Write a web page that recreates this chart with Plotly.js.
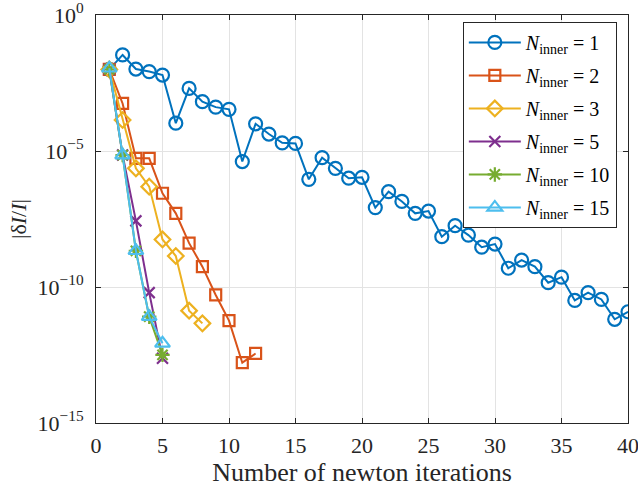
<!DOCTYPE html>
<html>
<head>
<meta charset="utf-8">
<script src="https://cdn.plot.ly/plotly-3.0.1.min.js"></script>
<style>html,body{margin:0;padding:0;background:#fff;}#plot{width:638px;height:493px;}</style>
</head>
<body>
<div id="plot"></div>
<script>
// Newton iterations
var xN1  = [1,2,3,4,5,6,7,8,9,10,11,12,13,14,15,16,17,18,19,20,21,22,23,24,25,26,27,28,29,30,31,32,33,34,35,36,37,38,39,40];
var yN1  = [1.0e-2,3.4e-2,1.03e-2,8.3e-3,6.2e-3,1.05e-4,2.0e-3,6.5e-4,4.1e-4,3.4e-4,4.1e-6,1.0e-4,4.2e-5,2.0e-5,1.9e-5,9.1e-7,5.7e-6,2.3e-6,1.0e-6,1.08e-6,8.3e-8,3.2e-7,1.4e-7,5.1e-8,6.2e-8,7.1e-9,1.8e-8,8.1e-9,2.9e-9,3.8e-9,4.9e-10,9.8e-10,5.6e-10,1.44e-10,2.3e-10,3.2e-11,6.2e-11,3.5e-11,6.5e-12,1.23e-11];
var xN2  = [1,2,3,4,5,6,7,8,9,10,11,12];
var yN2  = [1.0e-2,5.6e-4,5.4e-6,5.4e-6,2.8e-7,5.1e-8,4.1e-9,5.6e-10,5.1e-11,5.8e-12,1.65e-13,3.6e-13];
var xN3  = [1,2,3,4,5,6,7,8];
var yN3  = [1.0e-2,1.38e-4,2.3e-6,4.9e-7,5.6e-9,1.38e-9,1.35e-11,4.6e-12];
var xN5  = [1,2,3,4,5];
var yN5  = [1.0e-2,7.1e-6,2.7e-8,6.2e-11,2.4e-13];
var xN10 = [1,2,3,4,5];
var yN10 = [1.0e-2,7.1e-6,2.15e-9,8.1e-12,3.2e-13];
var xN15 = [1,2,3,4,5];
var yN15 = [1.1e-2,7.1e-6,2.15e-9,8.1e-12,8.5e-13];

var seriesNames = ['1','2','3','5','10','15'];
var yTickVals = [1e-15,1e-10,1e-5,1];
var yTickText = ['10<sup>\u221215</sup>','10<sup>\u221210</sup>','10<sup>\u22125</sup>','10<sup>0</sup>'];
var xTickVals = [0,5,10,15,20,25,30,35,40];

var colors = ['#0072BD','#D95319','#EDB120','#7E2F8E','#77AC30','#4DBEEE'];
var symbols = ['circle-open','square-open','diamond-open','x-thin-open','asterisk-open','triangle-up-open'];
var sizes = [13,11,12,11,12,13];
var xs = [xN1,xN2,xN3,xN5,xN10,xN15];
var ys = [yN1,yN2,yN3,yN5,yN10,yN15];

var traces = [];
for (var i = 0; i < 6; i++) {
  traces.push({
    x: xs[i], y: ys[i], type: 'scatter', mode: 'lines+markers',
    name: '<i>N</i><sub>inner</sub> = ' + seriesNames[i],
    legendgroup: 'g' + i,
    line: {color: colors[i], width: 2},
    marker: {symbol: symbols[i], size: sizes[i], color: colors[i], line: {color: colors[i], width: 2.2}}
  });
}

var axisCommon = {
  showline: true, linecolor: '#262626', linewidth: 1, mirror: 'ticks',
  ticks: 'inside', ticklen: 5, tickcolor: '#262626', tickwidth: 1,
  showgrid: true, gridcolor: '#e3e3e3', gridwidth: 1, zeroline: false,
  ticklabeloverflow: 'allow',
  tickfont: {family: 'Liberation Serif', size: 22, color: '#262626'}
};

var layout = {
  width: 638, height: 493,
  margin: {l: 96, r: 10, t: 15, b: 70},
  paper_bgcolor: '#fff', plot_bgcolor: '#fff',
  font: {family: 'Liberation Serif', color: '#262626'},
  xaxis: Object.assign({}, axisCommon, {
    range: [0, 40], tickmode: 'array', tickvals: xTickVals,
    ticklabelstandoff: 3,
    title: {text: 'Number of newton iterations', font: {family: 'Liberation Serif', size: 26, color: '#262626'}, standoff: 2}
  }),
  yaxis: Object.assign({}, axisCommon, {
    type: 'log', range: [-15, 0], tickmode: 'array', tickvals: yTickVals, ticktext: yTickText,
    ticklabelstandoff: 7,
    title: {text: '|\u03b4<i>I</i>/<i>I</i>|', font: {family: 'Liberation Serif', size: 22, color: '#262626'}, standoff: 4}
  }),
  showlegend: true,
  legend: {
    x: 0.979, y: 0.983, xanchor: 'right', yanchor: 'top',
    bgcolor: '#fff', bordercolor: '#262626', borderwidth: 1,
    font: {family: 'Liberation Serif', size: 20, color: '#000'},
    tracegroupgap: 4, itemwidth: 52
  }
};

Plotly.newPlot('plot', traces, layout, {displayModeBar: false, staticPlot: true});
</script>
</body>
</html>
